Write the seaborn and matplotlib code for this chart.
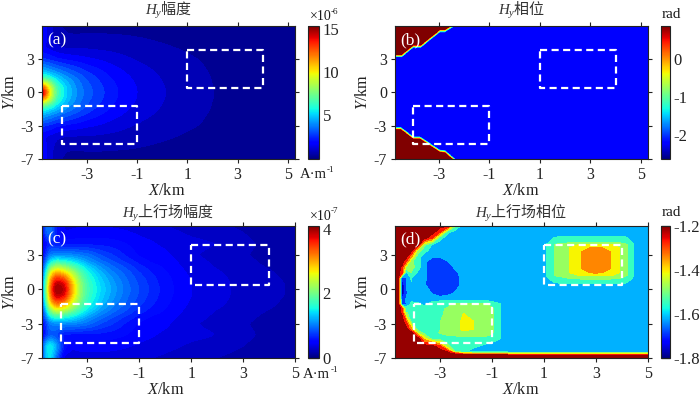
import numpy as np
import matplotlib
matplotlib.use("Agg")
import matplotlib.pyplot as plt
from matplotlib.cm import ScalarMappable
from matplotlib.colors import Normalize
import seaborn as sns

sns.set_theme(style="ticks")
plt.rcParams["font.family"] = ["Liberation Serif", "Noto Sans CJK SC"]
plt.rcParams["mathtext.fontset"] = "custom"
plt.rcParams["mathtext.it"] = "Liberation Serif:italic"
plt.rcParams["mathtext.rm"] = "Liberation Serif"
plt.rcParams["text.color"] = "#1a1a1a"
plt.rcParams["axes.unicode_minus"] = False

titles = [r"$\mathit{H_y}$幅度", r"$\mathit{H_y}$相位", r"$\mathit{H_y}$上行场幅度", r"$\mathit{H_y}$上行场相位"]
panel_tags = ["(a)", "(b)", "(c)", "(d)"]
x_ticks = [-3, -1, 1, 3, 5]
x_tick_labels = ["-3", "-1", "1", "3", "5"]
y_ticks = [-6, -3, 0, 3]
y_tick_labels = ["-7", "-3", "0", "3"]

# dashed survey boxes
box1_x = [-4, -1, -1, -4, -4]
box1_y = [-1.25, -1.25, -4.7, -4.7, -1.25]
box2_x = [1, 4, 4, 1, 1]
box2_y = [3.85, 3.85, 0.42, 0.42, 3.85]

# ---------- panel (a): amplitude, x 1e-6 ----------
a_x = [-4.78, -4.5, -4.2, -3.8, -3.4, -3, -2.5, -2, -1.5, -1, -0.5, 0, 1, 2, 3.5, 5.28]
a_0 = [15.3, 10.5, 6.8, 5.0, 4.0, 3.3, 2.7, 2.2, 1.8, 1.5, 1.25, 1.05, .73, .5, .4, .3]
a_05 = [12.5, 9.5, 6.5, 4.9, 3.9, 3.2, 2.65, 2.15, 1.78, 1.48, 1.23, 1.03, .72, .5, .4, .3]
a_1 = [8.5, 7.5, 5.6, 4.5, 3.7, 3.05, 2.5, 2.05, 1.7, 1.42, 1.18, 1.0, .7, .49, .39, .3]
a_15 = [6, 5.4, 4.7, 3.9, 3.3, 2.8, 2.3, 1.9, 1.6, 1.33, 1.12, .95, .67, .48, .38, .3]
a_2 = [4.6, 4.2, 3.7, 3.2, 2.8, 2.4, 2.05, 1.72, 1.45, 1.22, 1.04, .88, .63, .46, .37, .29]
a_3 = [2.6, 2.4, 2.1, 1.9, 1.75, 1.6, 1.45, 1.27, 1.1, .95, .82, .72, .55, .43, .33, .27]
a_4 = [1.6, 1.4, 1.1, .95, .95, .95, .9, .85, .78, .7, .63, .56, .45, .36, .29, .24]
a_5 = [1.8, 1.3, .75, .55, .55, .57, .57, .55, .53, .5, .46, .42, .35, .29, .24, .2]
a_6 = [1.9, 1.3, .6, .4, .35, .35, .35, .35, .35, .34, .32, .3, .26, .22, .19, .17]
a_y = [-6, -5, -4, -3, -2, -1.5, -1, -.5, 0, .5, 1, 1.5, 2, 3, 4, 5, 6]
a_z = [a_6, a_5, a_4, a_3, a_2, a_15, a_1, a_05, a_0, a_05, a_1, a_15, a_2, a_3, a_4, a_5, a_6]

# ---------- panel (b): phase ----------
b_base = -2.2
b_corner = 0.85
b_top_edge_x = [-4.75, -4.46, -4.0, -3.71, -2.95, -2.75, -2.33]
b_top_edge_y = [3.15, 3.15, 4.0, 4.0, 5.4, 5.4, 6.0]
b_bot_edge_x = [-4.75, -4.5, -4.0, -3.74, -2.95, -2.75, -2.33]
b_bot_edge_y = [-3.1, -3.1, -3.95, -3.95, -5.15, -5.2, -6.0]

# ---------- panel (c): upgoing amplitude, x 1e-7 ----------
c_x = [-4.75, -4.6, -4.45, -4.2, -3.9, -3.6, -3.3, -3, -2.5, -2, -1.5, -1, -.5, 0, 1, 2, 3, 4, 5]
c_0 = [.8, 1.9, 3.2, 4.1, 3.9, 3.0, 2.2, 1.75, 1.4, 1.15, .95, .8, .67, .55, .4, .33, .27, .23, .18]
c_05 = [.8, 1.8, 3.05, 3.95, 3.75, 2.9, 2.15, 1.72, 1.37, 1.13, .93, .78, .65, .54, .4, .33, .27, .23, .18]
c_1 = [.75, 1.65, 2.85, 3.5, 3.3, 2.65, 2.05, 1.65, 1.32, 1.08, .9, .75, .63, .53, .39, .32, .27, .22, .17]
c_15 = [.7, 1.4, 2.4, 2.95, 2.75, 2.3, 1.85, 1.55, 1.22, 1.0, .85, .7, .59, .51, .37, .31, .26, .21, .16]
c_2 = [.6, 1.15, 1.85, 2.25, 2.1, 1.85, 1.6, 1.35, 1.08, .9, .77, .63, .54, .48, .35, .29, .24, .19, .15]
c_25 = [.5, .9, 1.35, 1.6, 1.5, 1.4, 1.25, 1.1, .92, .78, .66, .55, .47, .45, .33, .28, .23, .17, .14]
c_3 = [.4, .7, 1.0, 1.05, 1.05, 1.05, 1.0, .95, .8, .7, .58, .48, .43, .42, .31, .27, .21, .16, .13]
c_p4 = [.3, .5, .65, .6, .55, .55, .55, .56, .56, .54, .5, .44, .41, .38, .33, .3, .23, .17, .12]
c_p5 = [.4, .9, 1.0, .6, .4, .42, .44, .44, .44, .43, .41, .38, .36, .33, .28, .25, .2, .14, .11]
c_p6 = [.4, 1.0, 1.1, .6, .35, .35, .35, .35, .36, .35, .34, .32, .3, .28, .24, .2, .16, .12, .1]
c_m4 = [.35, .65, .85, .8, .55, .55, .55, .56, .56, .54, .5, .44, .41, .38, .33, .3, .23, .17, .12]
c_m5 = [.7, 1.3, 1.6, 1.2, .55, .42, .44, .44, .44, .43, .41, .38, .36, .33, .28, .25, .2, .14, .11]
c_m6 = [.6, 1.3, 1.5, .9, .35, .33, .35, .35, .36, .35, .34, .32, .3, .28, .24, .2, .16, .12, .1]
c_y = [-6, -5, -4, -3, -2.5, -2, -1.5, -1, -.5, 0, .5, 1, 1.5, 2, 2.5, 3, 4, 5, 6]
c_z = [c_m6, c_m5, c_m4, c_3, c_25, c_2, c_15, c_1, c_05, c_0, c_05, c_1, c_15, c_2, c_25, c_3, c_p4, c_p5, c_p6]

# ---------- panel (d): upgoing phase, three sheets of the field ----------
d_bg_x = [-0.4, 5]
d_bg_y = [-6, -5.75, -5.6, -5.45, 5.6]
d_bg_z = [[-1.2, -1.2], [-1.2, -1.2], [-1.43, -1.43], [-1.62, -1.62], [-1.62, -1.62]]

d_r_x = [1.0, 1.1, 1.4, 2.0, 2.45, 3.0, 3.55, 3.9, 4.2, 4.45, 4.7]
d_r_y = [.3, .55, .93, 1.2, 1.45, 1.8, 2.5, 3.3, 3.65, 3.95, 4.1, 4.6, 4.9]
d_r_z = [
    [-1.63] * 11,
    [-1.63, -1.62, -1.59, -1.57, -1.57, -1.57, -1.57, -1.57, -1.59, -1.62, -1.63],
    [-1.63, -1.60, -1.55, -1.52, -1.51, -1.51, -1.51, -1.52, -1.55, -1.60, -1.63],
    [-1.63, -1.585, -1.515, -1.47, -1.44, -1.44, -1.44, -1.47, -1.515, -1.585, -1.63],
    [-1.63, -1.585, -1.515, -1.445, -1.39, -1.365, -1.39, -1.445, -1.515, -1.585, -1.63],
    [-1.63, -1.585, -1.515, -1.445, -1.375, -1.34, -1.375, -1.445, -1.515, -1.585, -1.63],
    [-1.63, -1.585, -1.515, -1.445, -1.375, -1.33, -1.375, -1.445, -1.515, -1.585, -1.63],
    [-1.63, -1.585, -1.515, -1.445, -1.375, -1.34, -1.375, -1.445, -1.515, -1.585, -1.63],
    [-1.63, -1.585, -1.515, -1.445, -1.39, -1.365, -1.39, -1.445, -1.515, -1.585, -1.63],
    [-1.63, -1.585, -1.515, -1.47, -1.44, -1.44, -1.44, -1.47, -1.515, -1.585, -1.63],
    [-1.63, -1.60, -1.55, -1.52, -1.51, -1.51, -1.51, -1.52, -1.55, -1.60, -1.63],
    [-1.63, -1.62, -1.59, -1.57, -1.57, -1.57, -1.57, -1.57, -1.59, -1.62, -1.63],
    [-1.63] * 11,
]

R = -1.2
d_l_x = [-4.75, -4.6, -4.45, -4.3, -4.1, -3.85, -3.6, -3.3, -3, -2.7, -2.4, -2.1, -1.7, -1.3, -1, -.7, -.4]
d_l_y = [-6, -5.75, -5.6, -5.45, -5, -4.3, -3.8, -3.5, -2.8, -2.1, -1.7, -1.3, -.9, -.4, .4, 1.0, 1.4, 2.0, 2.4, 2.9, 3.4, 3.9, 4.5, 5, 5.6]
d_l_z = [
    [R] * 17,
    [R] * 17,
    [R] * 10 + [-1.3] + [-1.43] * 6,
    [R] * 9 + [-1.25, -1.55, -1.57] + [-1.62] * 5,
    [R] * 8 + [-1.28, -1.5, -1.55, -1.55, -1.57, -1.6, -1.62, -1.62, -1.62],
    [R] * 6 + [-1.4, -1.55, -1.55, -1.55, -1.55, -1.53, -1.53, -1.53, -1.55, -1.58, -1.62],
    [R] * 5 + [-1.45, -1.55, -1.55, -1.51, -1.48, -1.47, -1.47, -1.47, -1.47, -1.5, -1.58, -1.62],
    [R] * 4 + [-1.35, -1.54, -1.55, -1.55, -1.52, -1.48, -1.50, -1.42, -1.445, -1.47, -1.50, -1.58, -1.62],
    [R] * 3 + [-1.3, -1.53, -1.55, -1.55, -1.55, -1.52, -1.48, -1.50, -1.42, -1.445, -1.47, -1.50, -1.58, -1.62],
    [R, R, -1.25, -1.5, -1.55, -1.56, -1.55, -1.55, -1.54, -1.49, -1.48, -1.445, -1.45, -1.48, -1.50, -1.58, -1.62],
    [R, R, -1.25, -1.55, -1.55, -1.56, -1.55, -1.55, -1.54, -1.50, -1.48, -1.46, -1.46, -1.48, -1.50, -1.58, -1.62],
    [R, R, -1.66, -1.66, -1.57, -1.57, -1.6, -1.56, -1.55, -1.55, -1.5, -1.49, -1.49, -1.50, -1.55, -1.58, -1.62],
    [R, R, -1.72, -1.65, -1.6, -1.62, -1.62, -1.61, -1.60, -1.60, -1.60, -1.60, -1.60, -1.60, -1.61, -1.62, -1.62],
    [R, R, -1.79, -1.67, -1.6, -1.62, -1.62, -1.655, -1.70, -1.67, -1.64, -1.62, -1.62, -1.62, -1.62, -1.62, -1.62],
    [R, R, -1.79, -1.67, -1.59, -1.62, -1.64, -1.72, -1.72, -1.72, -1.70, -1.62, -1.62, -1.62, -1.62, -1.62, -1.62],
    [R, R, -1.72, -1.66, -1.58, -1.62, -1.63, -1.72, -1.72, -1.72, -1.69, -1.62, -1.62, -1.62, -1.62, -1.62, -1.62],
    [R, R, -1.3, -1.62, -1.52, -1.6, -1.63, -1.72, -1.72, -1.72, -1.68, -1.62, -1.62, -1.62, -1.62, -1.62, -1.62],
    [R, R, -1.25, -1.45, -1.48, -1.55, -1.62, -1.72, -1.72, -1.72, -1.62, -1.62, -1.62, -1.62, -1.62, -1.62, -1.62],
    [R, R, R, -1.3, -1.5, -1.56, -1.62, -1.72, -1.72, -1.66, -1.62, -1.62, -1.62, -1.62, -1.62, -1.62, -1.62],
    [R] * 4 + [-1.35, -1.55, -1.62, -1.64, -1.64] + [-1.62] * 8,
    [R] * 5 + [-1.47, -1.55] + [-1.62] * 10,
    [R] * 6 + [-1.5, -1.59] + [-1.62] * 9,
    [R] * 7 + [-1.3, -1.56] + [-1.62] * 8,
    [R] * 8 + [-1.3, -1.57] + [-1.62] * 7,
    [R] * 10 + [-1.5] + [-1.62] * 6,
]
d_levels = [-1.80, -1.76, -1.725, -1.655, -1.585, -1.515, -1.445, -1.375, -1.305, -1.235, -1.19]

W, H = 700.0, 399.0
fig = plt.figure(figsize=(7, 3.99), dpi=100)
jet = plt.get_cmap("jet")
INK = "#222222"


def px_axes(l, t, r, b):
    return fig.add_axes([l / W, 1 - b / H, (r - l) / W, (b - t) / H])


def soften(x, y, z, nx=9, ny=7):
    """Display smoothing of a read grid, so that its contours are not kinked at the nodes."""
    fx = np.linspace(x[0], x[-1], 220)
    fy = np.linspace(y[0], y[-1], 130)
    z = np.array(z, float)
    Z = np.array([np.interp(fy, y, col) for col in z.T]).T
    Z = np.array([np.interp(fx, x, row) for row in Z])
    kx, ky = np.hanning(nx + 2)[1:-1], np.hanning(ny + 2)[1:-1]
    kx, ky = kx / kx.sum(), ky / ky.sum()
    Z = np.array([np.convolve(np.pad(r, nx // 2, mode="edge"), kx, "valid") for r in Z])
    Z = np.array([np.convolve(np.pad(c, ny // 2, mode="edge"), ky, "valid") for c in Z.T]).T
    return fx, fy, Z


def style_main(ax, xlim, ylim, title, tag, cx, title_y, xlab_y, ylab_x):
    ax.set_xlim(*xlim)
    ax.set_ylim(*ylim)
    ax.set_xticks(x_ticks, x_tick_labels)
    ax.set_yticks(y_ticks, y_tick_labels)
    ax.tick_params(direction="out", length=3.2, width=0.8, pad=2.5, labelsize=11.5, top=True, right=True,
                   colors=INK)
    for s in ax.spines.values():
        s.set_visible(True)
        s.set_linewidth(0.8)
        s.set_color(INK)
    ax.set_xlabel(r"$\mathit{X}$/km", fontsize=11.7, va="center", color=INK)
    ax.set_ylabel(r"$\mathit{Y}$/km", fontsize=11.7, va="center", color=INK)
    bb = ax.get_position()
    ax.xaxis.set_label_coords((cx / W - bb.x0) / bb.width, ((1 - xlab_y / H) - bb.y0) / bb.height)
    ax.yaxis.set_label_coords((ylab_x / W - bb.x0) / bb.width, 0.5)
    ax.set_title(title, family="Noto Sans CJK SC", fontsize=10.8, color="#333333", pad=0,
                 y=((1 - title_y / H) - bb.y0) / bb.height, va="center")
    ax.text(0.02, 0.895, tag, transform=ax.transAxes, color="white", fontsize=12.5, va="center", ha="left")
    for bx, by in ((box1_x, box1_y), (box2_x, box2_y)):
        sns.lineplot(x=bx, y=by, sort=False, estimator=None, ax=ax, color="white", lw=1.6,
                     linestyle=(0, (3.2, 2.0)), legend=False)


def add_cbar(pos, vmin, vmax, ticks, labels):
    cax = px_axes(*pos)
    cb = fig.colorbar(ScalarMappable(norm=Normalize(vmin, vmax), cmap=jet), cax=cax)
    cb.set_ticks(ticks, labels=labels)
    cb.outline.set_linewidth(0.8)
    cb.outline.set_edgecolor(INK)
    width_pt = (pos[2] - pos[0]) * 72 / 100
    cax.tick_params(direction="in", length=width_pt, width=0.9, pad=2.5, labelsize=12, colors=INK, right=True)
    return cax


# (a)
ax = px_axes(42, 26, 295, 158.7)
ax.contourf(*soften(a_x, a_y, a_z, nx=7, ny=5), levels=np.arange(0, 15.8, 0.5), cmap=jet, vmin=0, vmax=15.3)
style_main(ax, (-4.78, 5.28), (-6, 6), titles[0], panel_tags[0], 167, 11, 191, 10)
add_cbar((308, 26, 319, 158.7), 0, 15.3, [5, 10, 15], ["5", "10", "15"])
fig.text(310 / W, 1 - 17 / H, "×10", fontsize=10, va="center")
fig.text(331 / W, 1 - 12 / H, "-6", fontsize=6.5, va="center")
fig.text(300 / W, 1 - 174 / H, "A·m", fontsize=10.5, va="center")
fig.text(327 / W, 1 - 170 / H, "-1", fontsize=6.5, va="center")

# (b)
ax = px_axes(395, 26, 648, 158.7)
bx = np.linspace(-4.73, 5.28, 900)
by = np.linspace(-6, 6, 520)
BX, BY = np.meshgrid(bx, by)
up = np.clip((BY - np.interp(BX, b_top_edge_x, b_top_edge_y)) / 0.28, 0, 1)
dn = np.clip((np.interp(BX, b_bot_edge_x, b_bot_edge_y) - BY) / 0.28, 0, 1)
ax.pcolormesh(BX, BY, b_base + (b_corner - b_base) * np.maximum(up, dn), cmap=jet, vmin=-2.62, vmax=0.85,
              shading="auto", rasterized=True)
style_main(ax, (-4.73, 5.28), (-6, 6), titles[1], panel_tags[1], 521, 11, 191, 363)
add_cbar((661, 26, 670, 158.7), -2.62, 0.85, [-2, -1, 0], ["-2", "-1", "0"])
fig.text(671 / W, 1 - 14 / H, "rad", fontsize=11, va="center", ha="center")

# (c)
ax = px_axes(42, 225.7, 295, 357.7)
ax.contourf(*soften(c_x, c_y, c_z, nx=7, ny=7), levels=np.arange(0, 4.2, 0.1), cmap=jet, vmin=0, vmax=4.1)
style_main(ax, (-4.75, 5), (-6, 5.58), titles[2], panel_tags[2], 166, 213, 390, 10)
add_cbar((308, 225.7, 319, 357.7), 0, 4.1, [0, 2, 4], ["0", "2", "4"])
fig.text(310 / W, 1 - 216 / H, "×10", fontsize=10, va="center")
fig.text(331 / W, 1 - 211 / H, "-7", fontsize=6.5, va="center")
fig.text(303 / W, 1 - 374.5 / H, "A·m", fontsize=10.5, va="center")
fig.text(331 / W, 1 - 370.5 / H, "-1", fontsize=6.5, va="center")

# (d)
ax = px_axes(395, 225.7, 648, 357.7)
kw = dict(levels=d_levels, cmap=jet, vmin=-1.8, vmax=-1.2)
ax.contourf(d_bg_x, d_bg_y, np.array(d_bg_z), **kw)
ax.contourf(d_r_x, d_r_y, np.array(d_r_z), **kw)
ax.contourf(d_l_x, d_l_y, np.array(d_l_z), **kw)
style_main(ax, (-4.72, 5), (-6, 5.58), titles[3], panel_tags[3], 521, 213, 390, 363)
add_cbar((661, 225.7, 670, 357.7), -1.8, -1.2, [-1.8, -1.6, -1.4, -1.2], ["-1.8", "-1.6", "-1.4", "-1.2"])
fig.text(671 / W, 1 - 213 / H, "rad", fontsize=11, va="center", ha="center")

fig.savefig("out.png", dpi=100)
